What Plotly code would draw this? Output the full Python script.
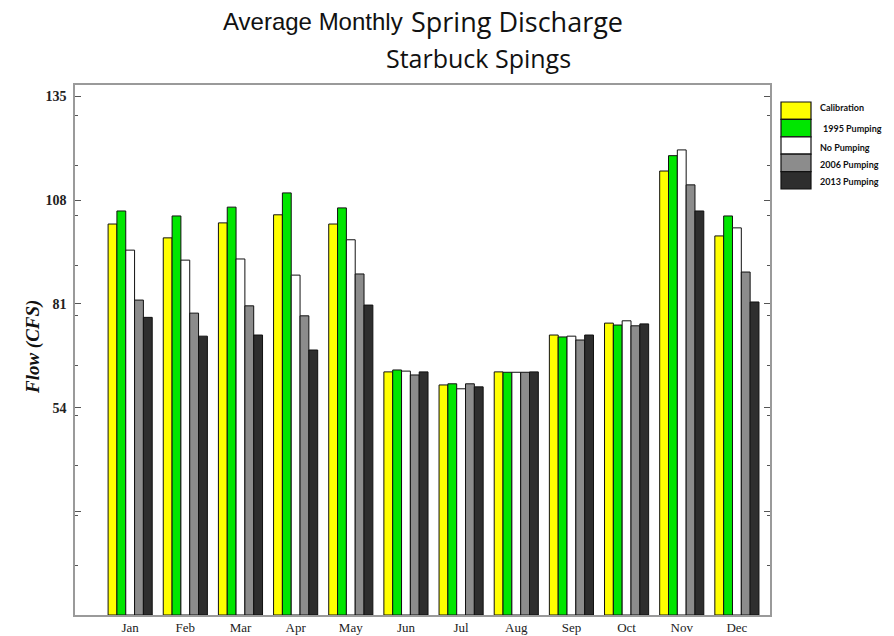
import plotly.graph_objects as go

months = ["Jan", "Feb", "Mar", "Apr", "May", "Jun", "Jul", "Aug", "Sep", "Oct", "Nov", "Dec"]
series_names = ["Calibration", "1995 Pumping", "No Pumping", "2006 Pumping", "2013 Pumping"]
calibration = [101.8, 98.2, 102.1, 104.2, 101.8, 63.3, 59.9, 63.3, 72.9, 76.0, 115.6, 98.7]
pumping_1995 = [105.2, 103.9, 106.2, 109.9, 106.0, 63.8, 60.2, 63.2, 72.4, 75.5, 119.6, 103.9]
no_pumping = [95.0, 92.4, 92.7, 88.5, 97.7, 63.5, 58.9, 63.2, 72.6, 76.6, 121.1, 100.8]
pumping_2006 = [82.0, 78.6, 80.5, 77.9, 88.8, 62.5, 60.2, 63.2, 71.6, 75.3, 112.0, 89.3]
pumping_2013 = [77.5, 72.6, 72.9, 69.0, 80.7, 63.3, 59.4, 63.3, 72.9, 75.8, 105.2, 81.5]
series_values = [calibration, pumping_1995, no_pumping, pumping_2006, pumping_2013]
colors = ["#FFFF00", "#00E600", "#FFFFFF", "#8C8C8C", "#2E2E2E"]
ytick_vals = [0, 27, 54, 81, 108, 135]
ytick_text = ["", "", "<b>54</b>", "<b>81</b>", "<b>108</b>", "<b>135</b>"]

W, H = 894, 636
L, R, T, B = 75, 770, 85, 615


def px(x):
    return (x - L) / (R - L)


def py(y):
    return (B - y) / (B - T)


fig = go.Figure()
for name, vals, col in zip(series_names, series_values, colors):
    fig.add_trace(go.Bar(
        x=months, y=vals, name=name,
        marker=dict(color=col, line=dict(color="#111111", width=1)),
        showlegend=False,
    ))

axis_col = "#9a9a9a"
fig.update_layout(
    width=W, height=H,
    margin=dict(l=L, r=W - R, t=T, b=H - B, pad=0),
    paper_bgcolor="white", plot_bgcolor="white",
    barmode="group", bargap=0.2, bargroupgap=0,
    xaxis=dict(
        range=[-1.0, 11.6], showgrid=False, ticks="", automargin=False,
        showline=True, linecolor=axis_col, linewidth=1.5, mirror=True,
        tickfont=dict(family="Liberation Serif, Times New Roman, serif", size=13, color="#222"),
    ),
    yaxis=dict(
        range=[0, 138], showgrid=False, zeroline=False, automargin=False,
        tickmode="array", tickvals=ytick_vals, ticktext=ytick_text,
        ticks="inside", ticklen=6, tickwidth=1, tickcolor="#555",
        minor=dict(ticks="inside", tickmode="linear", tick0=0, dtick=13,
                   ticklen=3, tickwidth=1, tickcolor="#555"),
        showline=True, linecolor=axis_col, linewidth=1.5, mirror="ticks",
        tickfont=dict(family="Liberation Serif, Times New Roman, serif", size=14, color="#222"),
        ticklabelstandoff=4,
    ),
    font=dict(family="Liberation Serif"),
)

# Title
fig.add_annotation(x=px(405), y=py(22), xref="paper", yref="paper",
                   text="Average Monthly", showarrow=False, xanchor="right", yanchor="middle",
                   font=dict(family="Liberation Sans, Arial", size=24, color="#111"))
fig.add_annotation(x=px(409), y=py(22), xref="paper", yref="paper",
                   text="Spring Discharge", showarrow=False, xanchor="left", yanchor="middle",
                   font=dict(family="Open Sans, sans-serif", size=27, color="#111"))
fig.add_annotation(x=px(478), y=py(58), xref="paper", yref="paper",
                   text="Starbuck Spings", showarrow=False, xanchor="center", yanchor="middle",
                   font=dict(family="Open Sans, sans-serif", size=25, color="#111"))

# Y axis title
fig.add_annotation(x=px(33), y=py(347), xref="paper", yref="paper",
                   text="<b><i>Flow (CFS)</i></b>", showarrow=False, textangle=-90,
                   xanchor="center", yanchor="middle",
                   font=dict(family="Liberation Serif, Times New Roman, serif", size=19, color="#111"))

# Custom legend (stacked swatches)
sw_top = 102
sw_h = 17.4
text_y = [107, 128, 147, 164, 182]
for i, (name, col) in enumerate(zip(series_names, colors)):
    y0 = sw_top + i * sw_h
    fig.add_shape(type="rect", xref="paper", yref="paper",
                  x0=px(781), x1=px(811), y0=py(y0 + sw_h), y1=py(y0),
                  fillcolor=col, line=dict(color="#111111", width=1.2))
    fig.add_annotation(x=px(818 if i != 1 else 821), y=py(text_y[i]), xref="paper", yref="paper",
                       text="<b>" + name + "</b>", showarrow=False, xanchor="left", yanchor="middle",
                       font=dict(family="Lato, Open Sans, sans-serif", size=9, color="#111"))

fig.write_html("out.html", config={"displayModeBar": False},
               post_script="document.body.style.margin='0';")
